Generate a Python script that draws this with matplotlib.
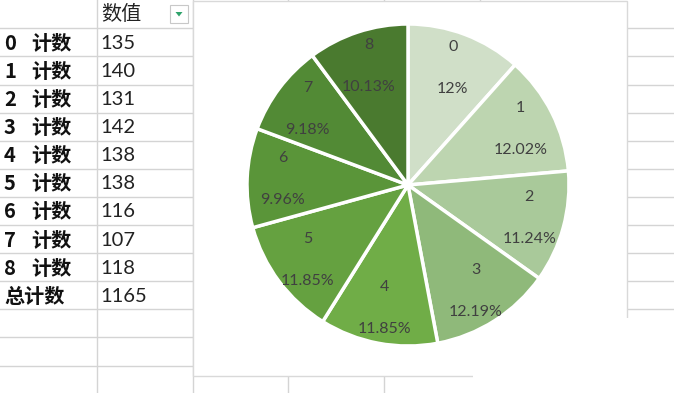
import numpy as np
import matplotlib
matplotlib.use('Agg')
import matplotlib.pyplot as plt
from matplotlib.patches import Rectangle, Polygon

# data read from the sheet
row_keys = ['0', '1', '2', '3', '4', '5', '6', '7', '8', '总']
row_values = ['135', '140', '131', '142', '138', '138', '116', '107', '118', '1165']
categories = ['0', '1', '2', '3', '4', '5', '6', '7', '8']
counts = [135, 140, 131, 142, 138, 138, 116, 107, 118]
pct_labels = ['12%', '12.02%', '11.24%', '12.19%', '11.85%',
              '11.85%', '9.96%', '9.18%', '10.13%']
colors = ['#d0dfc8', '#bdd5b0', '#a9c99a', '#8fb97a', '#70ad47',
          '#65a140', '#5a9539', '#528a35', '#4a7a2f']

W, H = 674, 393
fig = plt.figure(figsize=(W / 100, H / 100), dpi=100)

# sheet background in pixel coordinates
bg = fig.add_axes([0, 0, 1, 1])
bg.set_xlim(0, W)
bg.set_ylim(H, 0)
bg.axis('off')

grid = '#d4d4d4'
row_h = 28.1
rows = [28.3 + row_h * k for k in range(13)]
for y in rows:
    bg.plot([0, W], [y, y], color=grid, lw=1)
for x in [96.7, 192.7, 288, 384, 480]:
    bg.plot([x, x], [0, H], color=grid, lw=1)

cjk = ['Noto Sans CJK SC']
num = ['Lato', 'DejaVu Sans']

# table text
bg.text(101, 15, '数值', family=cjk, fontsize=14.5,
        va='center', ha='left', color='#222222')
bg.add_patch(Rectangle((170, 5), 18, 18, facecolor='white', edgecolor='#c8c8c8', lw=0.8))
bg.add_patch(Polygon([(175.5, 12), (182.5, 12), (179, 16.5)], closed=True,
                     facecolor='#2fa36b', edgecolor='none'))
for i, (key, val) in enumerate(zip(row_keys, row_values)):
    yc = rows[i] + row_h / 2 + 1
    if key == '总':
        bg.text(4, yc, '总计数', family=cjk, fontweight='bold',
                fontsize=14.5, va='center', ha='left', color='#111111')
    else:
        bg.text(4, yc, key, family=cjk, fontweight='bold',
                fontsize=14.5, va='center', ha='left', color='#111111')
        bg.text(31, yc, '计数', family=cjk, fontweight='bold',
                fontsize=14.5, va='center', ha='left', color='#111111')
    bg.text(100, yc, val, family=num, fontsize=14.5,
            va='center', ha='left', color='#222222')

# chart area
bg.add_patch(Rectangle((193, 0.5), 434, 375, facecolor='white',
                       edgecolor='#d9d9d9', lw=1, zorder=3))
# white patch bottom right
bg.add_patch(Rectangle((497, 318), 180, 80, facecolor='white', edgecolor='none', zorder=4))
bg.add_patch(Rectangle((473, 335), 30, 60, facecolor='white', edgecolor='none', zorder=4))

# pie
cx, cy, r = 408, 185, 161
ax = fig.add_axes([(cx - r) / W, (H - cy - r) / H, 2 * r / W, 2 * r / H])
ax.set_zorder(5)
wedges, _ = ax.pie(counts, colors=colors, startangle=90, counterclock=False,
                   wedgeprops=dict(edgecolor='white', linewidth=2.5))
ax.set_xlim(-1.0, 1.0)
ax.set_ylim(-1.0, 1.0)
ax.set_aspect('equal')
ax.axis('off')

total = sum(counts)
cum = 0
for name, c, p in zip(categories, counts, pct_labels):
    mid = (cum + c / 2) / total * 2 * np.pi
    cum += c
    bx = 0.78 * np.sin(mid)
    by = 0.78 * np.cos(mid)
    ax.text(bx, by + 0.13, name, ha='center', va='center', fontsize=11.5,
            family=num, color='#404040')
    ax.text(bx, by - 0.13, p, ha='center', va='center', fontsize=11.5,
            family=num, color='#404040')

fig.savefig('out.png', dpi=100)
